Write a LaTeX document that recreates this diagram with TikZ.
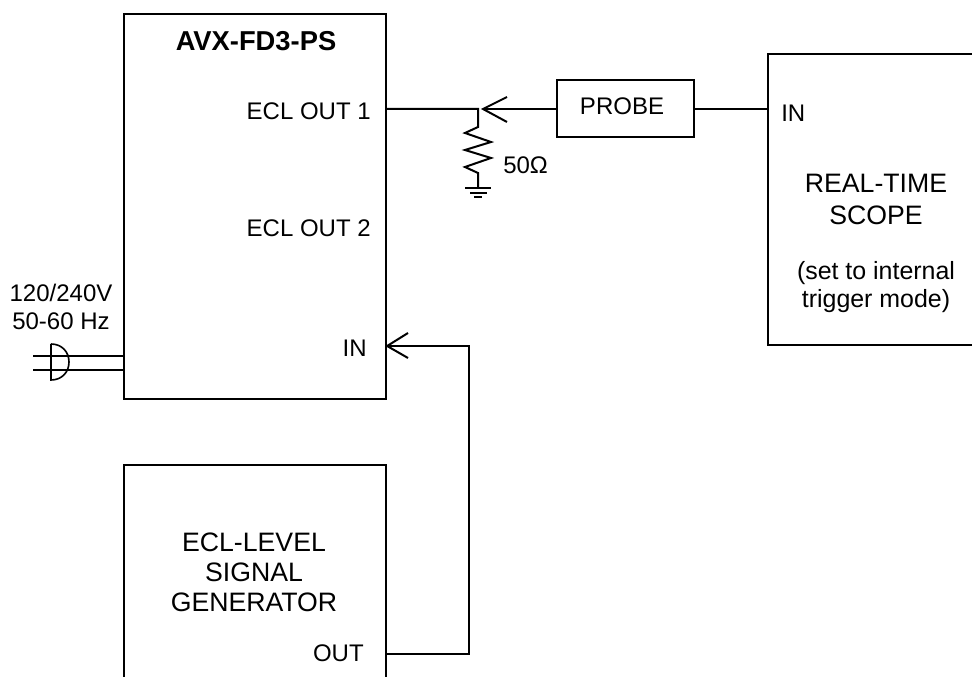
\documentclass[tikz,border=0pt]{standalone}
\usepackage{fontspec}
\setmainfont{Liberation Sans}
\begin{document}
\begin{tikzpicture}[x=0.75pt,y=-0.75pt,line join=miter,
  box/.style={draw=black,line width=1.6pt,rectangle,inner sep=0pt,anchor=north west},
  wire/.style={draw=black,line width=1.5pt},
  lbl/.style={inner sep=0pt,font=\fontsize{18pt}{21pt}\selectfont,align=center,text=black},
  big/.style={lbl,font=\fontsize{20pt}{23pt}\selectfont},
  rlbl/.style={lbl,anchor=east},
  llbl/.style={lbl,anchor=west}]
\useasboundingbox (0,0) rectangle (972,677);
\begin{scope}
\clip (0,0) rectangle (972,677);
\node[box,minimum width=262*0.75pt,minimum height=385*0.75pt] (fd) at (123,13) {};
\node[box,minimum width=262*0.75pt,minimum height=240*0.75pt] (gen) at (123,464) {};
\node[box,minimum width=240*0.75pt,minimum height=291*0.75pt] (scope) at (767,53) {};
\node[box,minimum width=137*0.75pt,minimum height=57*0.75pt] (probe) at (556,79) {};
\end{scope}
\node[lbl,font=\fontsize{20.5pt}{24pt}\selectfont\bfseries] (title) at (256,41) {AVX-FD3-PS};
\node[rlbl] (o1) at (371,111) {ECL OUT 1};
\node[rlbl] (o2) at (371,228) {ECL OUT 2};
\node[rlbl] (in1) at (367,348) {IN};
\node[lbl] (pw) at (61,307) {120/240V\\50-60 Hz};
\node[big,font=\fontsize{20pt}{22.5pt}\selectfont] (gt) at (254,572) {ECL-LEVEL\\SIGNAL\\GENERATOR};
\node[rlbl] (out) at (364,653) {OUT};
\node[lbl] (pt) at (622,106) {PROBE};
\node[llbl] (in2) at (781,113) {IN};
\node[big,font=\fontsize{20pt}{24pt}\selectfont] (st) at (876,199) {REAL-TIME\\SCOPE};
\node[lbl,font=\fontsize{18.7pt}{21pt}\selectfont] (sn) at (876,287) {(set to internal\\trigger mode)};
\node[llbl] (ohm) at (503,165) {50Ω};
% probe and wiring
\coordinate (j) at (478,109);
\coordinate (tip) at (483,109);
\coordinate (r0) at (478,127);
\coordinate (gnd) at (478,188);
\draw[wire] (fd.east |- j) -- (j) -- (r0) -- (465,133) -- (491,142) -- (465,150) -- (491,158) -- (465,167) -- (478,173) -- (gnd);
\draw[wire] (465,188) -- (491,188);
\draw[wire] (470,193) -- (487,193);
\draw[wire] (474,197) -- (482,197);
\draw[wire] (probe.west |- tip) -- (tip);
\draw[wire] (507,97) -- (tip) -- (507,122);
\draw[wire] (probe.east |- j) -- (scope.west |- j);
\coordinate (itip) at (fd.east |- 0,346);
\coordinate (corner) at (469,346);
\coordinate (ocorner) at (469,654);
\draw[wire] (gen.east |- ocorner) -- (ocorner) -- (corner) -- (itip);
\draw[wire] (408,333) -- (itip) -- (408,358);
% mains plug
\coordinate (a1) at (33,356);
\coordinate (a2) at (33,370);
\draw[draw=black,line width=1pt] (a1) -- (fd.west |- a1);
\draw[draw=black,line width=1pt] (a2) -- (fd.west |- a2);
\draw[wire,line width=1.2pt] (51,344) -- (51,380) .. controls (62,380) and (69,372) .. (69,362) .. controls (69,352) and (62,344) .. (51,344);
\end{tikzpicture}
\end{document}
